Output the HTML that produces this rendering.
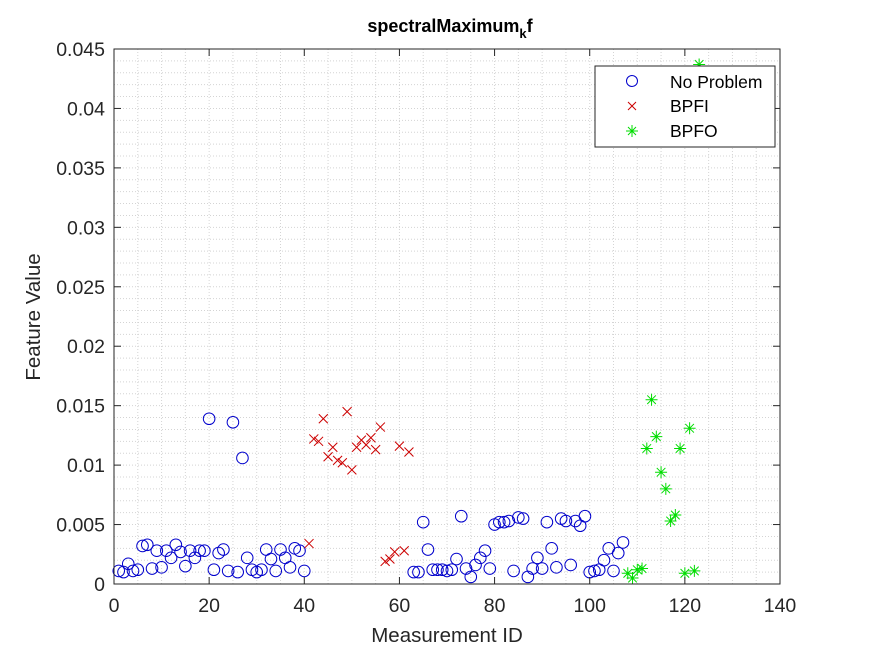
<!DOCTYPE html>
<html><head><meta charset="utf-8"><style>
body{margin:0;background:#fff;}
svg text{font-family:"Liberation Sans",Arial,sans-serif;}
</style></head><body>
<svg id="chart" width="875" height="656" xmlns="http://www.w3.org/2000/svg">
<rect width="875" height="656" fill="#fff"/>
<g id="grid"></g>
<g id="marks"></g>
<g id="axes"></g>
<text x="450" y="32" text-anchor="middle" font-size="18" font-weight="bold">spectralMaximum<tspan font-size="13" dy="6">k</tspan><tspan dy="-6">f</tspan></text>
<text x="447" y="642" text-anchor="middle" font-size="20.5" fill="#262626">Measurement ID</text>
<text transform="translate(40,317) rotate(-90)" text-anchor="middle" font-size="20.5" fill="#262626">Feature Value</text>
<g>
<rect x="595" y="66" width="180" height="81" fill="#fff" stroke="#262626" stroke-width="1"/>
<circle cx="632" cy="81" r="5.5" fill="none" stroke="#0000cc"/>
<text x="670" y="88" font-size="17.5">No Problem</text>
<path d="M628 102 l8 8 M636 102 l-8 8" stroke="#cc0000"/>
<text x="670" y="112" font-size="17.5">BPFI</text>
<path d="M626 131 h12 M632 125 v12 M628 127 l8 8 M636 127 l-8 8" stroke="#00dd00"/>
<text x="670" y="137" font-size="17.5">BPFO</text>
</g>
</svg>
<script>
const xTicks=[0,20,40,60,80,100,120,140];
const yTicks=[0,0.005,0.01,0.015,0.02,0.025,0.03,0.035,0.04,0.045];
const yTickLabels=["0","0.005","0.01","0.015","0.02","0.025","0.03","0.035","0.04","0.045"];
const npX=[1,2,3,4,5,6,7,8,9,10,11,12,13,14,15,16,17,18,19,20,21,22,23,24,25,26,27,28,29,30,31,32,33,34,35,36,37,38,39,40,63,64,65,66,67,68,69,70,71,72,73,74,75,76,77,78,79,80,81,82,83,84,85,86,87,88,89,90,91,92,93,94,95,96,97,98,99,100,101,102,103,104,105,106,107];
const npY=[.0011,.0010,.0017,.0011,.0012,.0032,.0033,.0013,.0028,.0014,.0028,.0022,.0033,.0027,.0015,.0028,.0022,.0028,.0028,.0139,.0012,.0026,.0029,.0011,.0136,.0010,.0106,.0022,.0012,.0010,.0012,.0029,.0021,.0011,.0029,.0022,.0014,.0030,.0028,.0011,.0010,.0010,.0052,.0029,.0012,.0012,.0012,.0011,.0012,.0021,.0057,.0013,.0006,.0016,.0022,.0028,.0013,.0050,.0052,.0052,.0053,.0011,.0056,.0055,.0006,.0013,.0022,.0013,.0052,.0030,.0014,.0055,.0053,.0016,.0053,.0049,.0057,.0010,.0011,.0012,.0020,.0030,.0011,.0026,.0035];
const bpfiX=[41,42,43,44,45,46,47,48,49,50,51,52,53,54,55,56,57,58,59,60,61,62];
const bpfiY=[.0034,.0122,.0120,.0139,.0107,.0115,.0104,.0102,.0145,.0096,.0115,.0121,.0117,.0123,.0113,.0132,.0019,.0021,.0027,.0116,.0028,.0111];
const bpfoX=[108,109,110,111,112,113,114,115,116,117,118,119,120,121,122,123];
const bpfoY=[.0009,.0005,.0012,.0013,.0114,.0155,.0124,.0094,.0080,.0053,.0058,.0114,.0009,.0131,.0011,.0437];
const L=114,R=780,T=49,B=584;
const sx=v=>L+(v-0)/(140-0)*(R-L);
const sy=v=>B-(v-0)/(0.045-0)*(B-T);
const NS="http://www.w3.org/2000/svg";
function mk(tag,attrs,parent){const e=document.createElementNS(NS,tag);for(const k in attrs)e.setAttribute(k,attrs[k]);parent.appendChild(e);return e;}
const grid=document.getElementById('grid'),marks=document.getElementById('marks'),axes=document.getElementById('axes');
for(let v=5;v<140;v+=5){const e=mk('line',{x1:sx(v),x2:sx(v),y1:T,y2:B,stroke:'#d4d4d4','stroke-dasharray':'1 2','stroke-width':1},grid);

}
for(let i=1;i<45;i++){const v=i*0.001;const e=mk('line',{x1:L,x2:R,y1:sy(v),y2:sy(v),stroke:'#d4d4d4','stroke-dasharray':'1 2','stroke-width':1},grid);

}
const box=mk('rect',{x:L,y:T,width:R-L,height:B-T,fill:'none',stroke:'#262626','stroke-width':1},axes);


xTicks.forEach(v=>{const x=sx(v);
mk('line',{x1:x,x2:x,y1:B,y2:B-7,stroke:'#262626'},axes);
mk('line',{x1:x,x2:x,y1:T,y2:T+7,stroke:'#262626'},axes);
const t=mk('text',{x:x,y:B+28,'text-anchor':'middle','font-size':19.5,fill:'#262626'},axes);t.textContent=v;

});
yTicks.forEach((v,i)=>{const y=sy(v);
mk('line',{x1:L,x2:L+7,y1:y,y2:y,stroke:'#262626'},axes);
mk('line',{x1:R,x2:R-7,y1:y,y2:y,stroke:'#262626'},axes);
const t=mk('text',{x:L-9,y:y+7,'text-anchor':'end','font-size':19.5,fill:'#262626'},axes);t.textContent=yTickLabels[i];

});
npX.forEach((xv,i)=>{const c=mk('circle',{cx:sx(xv),cy:sy(npY[i]),r:5.8,fill:'none',stroke:'#0000cc','stroke-width':1},marks);

});
bpfiX.forEach((xv,i)=>{const x=sx(xv),y=sy(bpfiY[i]);const p=mk('path',{d:`M${x-4.5} ${y-4.5}L${x+4.5} ${y+4.5}M${x+4.5} ${y-4.5}L${x-4.5} ${y+4.5}`,stroke:'#cc0000','stroke-width':1},marks);

});
bpfoX.forEach((xv,i)=>{const x=sx(xv),y=sy(bpfoY[i]);const p=mk('path',{d:`M${x-6} ${y}H${x+6}M${x} ${y-6}V${y+6}M${x-4.3} ${y-4.3}L${x+4.3} ${y+4.3}M${x+4.3} ${y-4.3}L${x-4.3} ${y+4.3}`,stroke:'#00dd00','stroke-width':1},marks);

});
</script>
</body></html>
